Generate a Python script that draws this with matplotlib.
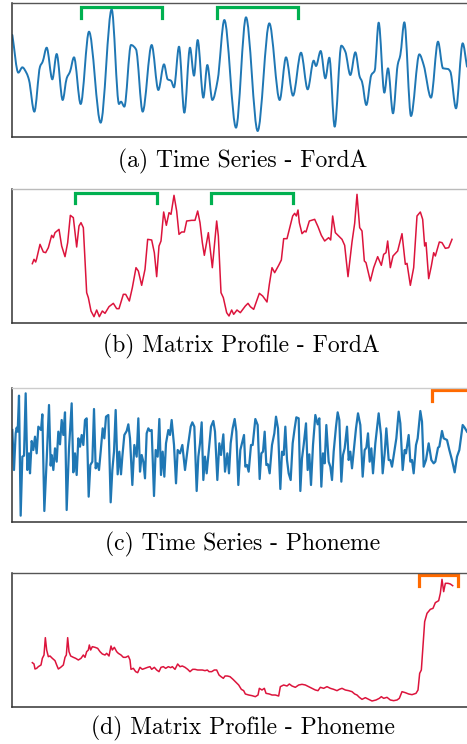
import numpy as np
import matplotlib
matplotlib.use('Agg')
import matplotlib.pyplot as plt
from matplotlib.path import Path
from matplotlib.patches import PathPatch

# readings taken off the figure: time index and level (level grows downwards)

# (a) FordA time series
fa_t = [22, 40, 52, 65, 72, 88, 105, 113, 125, 142, 155, 173, 185, 195, 207, 227,
        252, 287, 320, 342, 348, 358, 378, 393, 413, 440, 460, 477, 488, 498, 507,
        522, 538, 555, 567, 578, 595, 607, 622, 638, 658, 693, 723, 758, 793, 824,
        843, 864, 888, 908, 926, 933, 947, 961, 973, 989, 1009, 1021, 1036, 1051,
        1064, 1071, 1084, 1099, 1109, 1121, 1138, 1149, 1164, 1178, 1186, 1198,
        1218, 1243, 1256, 1278, 1299, 1314, 1329, 1336, 1353, 1373, 1386]
fa_y = [105, 218, 202, 220, 240, 335, 200, 185, 143, 238, 162, 300, 235, 215, 172, 312,
        95, 368, 28, 312, 305, 320, 135, 148, 335, 135, 270, 193, 238, 242, 262,
        140, 338, 143, 227, 120, 293, 195, 300, 240, 60, 383, 52, 393, 70, 300,
        172, 287, 158, 268, 182, 198, 153, 235, 173, 380, 137, 155, 225, 157,
        230, 245, 315, 225, 212, 68, 278, 205, 340, 195, 165, 67,
        348, 163, 195, 293, 125, 205, 207, 215, 325, 130, 200]
fa_motifs = [(228, 472), (637, 878)]

# (b) FordA matrix profile
fb_t = [82, 87, 92, 95, 105, 115, 122, 130, 140, 145, 150, 162, 170, 180, 188, 196,
        205, 215, 222, 228, 235, 245, 250, 258, 267, 275, 283, 292, 300, 312, 325,
        335, 342, 355, 362, 373, 382, 393, 400, 410, 420, 428, 440, 448, 455, 462,
        468, 476, 484, 492, 498, 507, 515, 522, 530, 538, 545, 560, 570, 578, 585,
        592, 598, 610, 622, 635, 640, 648, 655, 665, 672, 680, 686, 696, 706, 721,
        729, 736, 746, 763, 773, 786, 793, 801, 809, 821, 829, 836, 846, 856, 863,
        869, 874, 879, 883, 891, 899, 903, 913, 929, 939, 949, 959, 971, 977, 983,
        991, 999, 1011, 1019, 1029, 1041, 1049, 1056, 1064, 1071, 1078, 1083, 1096,
        1106, 1118, 1129, 1136, 1143, 1148, 1156, 1164, 1178, 1191, 1201, 1206,
        1216, 1226, 1236, 1246, 1253, 1259, 1263, 1271, 1279, 1286, 1291, 1303,
        1311, 1321, 1331, 1341]
fb_y = [233, 220, 228, 218, 175, 198, 200, 185, 148, 155, 140, 130, 180, 212, 170, 88,
        95, 183, 120, 110, 125, 320, 335, 375, 392, 372, 392, 375, 382, 362, 352,
        368, 368, 325, 325, 345, 305, 245, 255, 298, 250, 160, 162, 200, 272, 180,
        165, 78, 118, 80, 85, 28, 75, 145, 138, 138, 105, 103, 103, 75, 110,
        170, 208, 140, 245, 105, 150, 320, 335, 380, 390, 372, 385, 372, 380, 360,
        352, 362, 370, 322, 330, 348, 295, 245, 260, 238, 222, 158, 158, 118, 90,
        82, 90, 72, 110, 143, 135, 138, 105, 100, 122, 148, 165, 155, 162, 90,
        140, 148, 160, 178, 272, 168, 112, 25, 125, 135, 225, 230, 285,
        245, 212, 238, 205, 200, 165, 245, 210, 195, 143, 235, 232,
        298, 245, 90, 78, 100, 180, 170, 278, 240, 200, 210, 168,
        170, 187, 185, 160]
fb_motifs = [(210, 455), (618, 863)]

# (c) Phoneme time series
pc_t = [22, 27, 32, 35, 38, 42, 47, 52, 57, 62, 67, 72, 75, 80, 85, 90, 95, 100, 108,
        112, 118, 125, 132, 137, 140, 145, 150, 155, 160, 165, 170, 175, 180, 185,
        192, 200, 205, 210, 215, 220, 225, 230, 235, 240, 245, 251, 256, 262, 267,
        272, 277, 282, 287, 293, 298, 303, 310, 317, 322, 327, 332, 338, 343, 348,
        352, 358, 365, 370, 375, 382, 388, 395, 400, 405, 410, 415, 420, 425, 430,
        435, 440, 447, 452, 458, 463, 468, 473, 478, 483, 490, 495, 500, 507, 513,
        518, 525, 532, 540, 545, 550, 557, 562, 568, 575, 580, 585, 590, 595, 600,
        605, 612, 618, 625, 630, 637, 643, 648, 655, 660, 667, 672, 677, 683, 689,
        694, 700, 706, 711, 717, 721, 726, 731, 738, 743, 751, 758, 764, 769, 774,
        779, 784, 789, 794, 801, 808, 813, 819, 826, 831, 836, 841, 846, 851, 857,
        863, 869, 874, 881, 886, 891, 896, 903, 908, 913, 918, 924, 931, 938, 943,
        949, 954, 959, 964, 971, 976, 981, 986, 993, 998, 1003, 1009, 1014, 1019,
        1026, 1031, 1036, 1041, 1048, 1053, 1059, 1066, 1073, 1079, 1084, 1089,
        1094, 1099, 1104, 1111, 1121, 1128, 1133, 1139, 1144, 1151, 1156, 1161,
        1168, 1174, 1181, 1186, 1193, 1199, 1203, 1211, 1216, 1221, 1226, 1233,
        1238, 1246, 1251, 1256, 1263, 1271, 1279, 1286, 1291, 1299, 1303, 1311,
        1316, 1326, 1333, 1341, 1349, 1356, 1363, 1373, 1379, 1386]
pc_y = [135, 255, 145, 128, 140, 32, 392, 215, 212, 25, 255, 205, 265, 168, 195, 155,
        205, 125, 135, 88, 378, 225, 60, 242, 210, 255, 190, 230, 140, 178, 105, 150,
        82, 375, 190, 55, 262, 205, 270, 160, 185, 150, 180, 105, 100, 335, 240, 230,
        72, 250, 235, 255, 200, 130, 160, 95, 90, 352, 255, 200, 75, 268, 200, 268,
        215, 150, 138, 118, 160, 300, 180, 215, 100, 260, 210, 230, 280, 145, 130,
        138, 135, 333, 195, 215, 102, 270, 200, 275, 175, 135, 150, 105, 180, 295,
        195, 205, 180, 255, 215, 175, 125, 112, 125, 318, 215, 175, 112, 285, 215,
        265, 190, 125, 108, 140, 285, 175, 210, 148, 260, 205, 265, 175, 130, 102,
        140, 300, 195, 175, 150, 245, 240, 260, 180, 180, 102, 120, 282, 205, 200,
        140, 240, 238, 265, 180, 145, 95, 130, 312, 200, 210, 125, 225, 265, 285,
        175, 130, 97, 100, 318, 220, 180, 115, 255, 208, 300, 180, 90, 118, 100,
        305, 205, 235, 120, 230, 245, 285, 200, 125, 82, 105, 290, 210, 190,
        125, 225, 200, 250, 180, 130, 85, 120, 275, 195, 188, 145,
        230, 190, 265, 175, 85, 150, 265, 205, 130, 225, 225, 245,
        200, 160, 80, 115, 255, 195, 205, 150, 230, 225, 265, 180,
        160, 78, 110, 245, 225, 175, 225, 235, 230, 188, 185, 138,
        160, 165, 195, 225, 262, 215, 195, 120, 128, 140]
pc_motifs = [(1281, 1480)]

# (d) Phoneme matrix profile
pd_t = [82, 87, 90, 95, 100, 108, 112, 117, 121, 125, 130, 135, 142, 150, 155, 160,
        167, 175, 180, 184, 188, 192, 197, 205, 212, 220, 228, 235, 240, 245, 250,
        253, 257, 262, 270, 278, 285, 292, 300, 305, 312, 318, 322, 328, 335, 340,
        348, 355, 362, 370, 375, 378, 385, 392, 398, 405, 412, 420, 428, 435, 440,
        448, 455, 462, 468, 475, 482, 490, 497, 502, 510, 518, 525, 532, 540, 548,
        555, 563, 570, 578, 585, 592, 600, 607, 612, 620, 628, 635, 642, 648, 655,
        660, 667, 675, 684, 691, 701, 709, 716, 721, 731, 741, 751, 759, 763, 771,
        778, 783, 793, 801, 811, 821, 826, 836, 846, 853, 861, 871, 881, 891, 901,
        911, 921, 931, 939, 946, 956, 966, 976, 986, 996, 1003, 1011, 1021, 1031,
        1041, 1049, 1056, 1063, 1071, 1081, 1091, 1101, 1113, 1123, 1129, 1136,
        1146, 1156, 1166, 1176, 1183, 1191, 1201, 1211, 1221, 1233, 1239, 1244,
        1249, 1253, 1259, 1266, 1276, 1284, 1291, 1301, 1306, 1311, 1316, 1321,
        1329, 1336, 1343]
pd_y = [278, 282, 297, 295, 290, 285, 265, 255, 203, 240, 260, 258, 265, 272, 285, 297,
        292, 285, 262, 255, 203, 245, 258, 262, 265, 270, 265, 255, 262, 245, 240,
        225, 240, 230, 232, 235, 245, 252, 255, 250, 258, 228, 240, 232, 245, 250,
        255, 262, 262, 258, 270, 298, 295, 305, 308, 292, 298, 295, 292, 290, 298,
        292, 300, 305, 292, 290, 295, 290, 293, 290, 298, 282, 290, 288, 292, 298,
        305, 298, 298, 300, 300, 300, 302, 300, 305, 305, 300, 300, 315, 320, 325,
        318, 318, 320, 328, 335, 345, 358, 362, 372, 375, 377, 380, 375, 355, 360,
        355, 370, 372, 375, 375, 378, 350, 345, 348, 342, 348, 352, 345, 343, 345,
        350, 355, 360, 362, 352, 355, 350, 355, 358, 362, 358, 355, 360, 362,
        365, 372, 375, 382, 388, 383, 388, 393, 390, 385, 380, 385,
        382, 390, 392, 390, 385, 365, 368, 372, 374, 370, 360, 310,
        300, 240, 155, 130, 118, 115, 98, 92, 70, 28, 65, 40,
        40, 42, 47]
pd_motifs = [(1241, 1359)]

BLUE = '#1f77b4'
RED = '#dc143c'
GREEN = '#00b050'
ORANGE = '#ff6a00'

W, H = 467, 744
fig = plt.figure(figsize=(W / 100, H / 100), dpi=100)


def make_ax(top_px, bot_px, top_read, bot_read, top_col):
    # axes box in pixels: left spine at x=11.7, right edge runs past the figure
    ax = fig.add_axes([11.67 / W, 1 - bot_px / H, 470 / W, (bot_px - top_px) / H])
    ax.set_xlim(20, 20 + 470 * 3)
    ax.set_ylim(bot_read, top_read)
    ax.set_xticks([])
    ax.set_yticks([])
    for s in ['left', 'bottom']:
        ax.spines[s].set_color('#333333')
        ax.spines[s].set_linewidth(1.1)
    ax.spines['top'].set_color(top_col)
    ax.spines['top'].set_linewidth(1.0)
    ax.spines['right'].set_visible(False)
    return ax


def smooth_line(ax, t, y, **kw):
    # draw the read points joined by a monotone cubic (bezier) path
    t = np.asarray(t, float)
    y = np.asarray(y, float)
    d = np.diff(y) / np.diff(t)
    m = np.zeros_like(y)
    m[0], m[-1] = d[0], d[-1]
    for i in range(1, len(y) - 1):
        if d[i - 1] * d[i] > 0:
            m[i] = 2.0 / (1.0 / d[i - 1] + 1.0 / d[i])
    verts = [(t[0], y[0])]
    codes = [Path.MOVETO]
    for i in range(len(t) - 1):
        h = t[i + 1] - t[i]
        verts += [(t[i] + h / 3, y[i] + m[i] * h / 3),
                  (t[i + 1] - h / 3, y[i + 1] - m[i + 1] * h / 3),
                  (t[i + 1], y[i + 1])]
        codes += [Path.CURVE4] * 3
    ax.add_patch(PathPatch(Path(verts, codes), fill=False, capstyle='round',
                           joinstyle='round', **kw))


def brackets(ax, spans, y_top, y_leg, col):
    for a, b in spans:
        ax.plot([a, a, b, b], [y_leg, y_top, y_top, y_leg], color=col, lw=2.3,
                solid_joinstyle='miter', clip_on=False)


cap = dict(ha='center', va='center', fontsize=17, family='cmr10')

ax = make_ax(3.0, 137.33, 9, 412, '#555555')
smooth_line(ax, fa_t, fa_y, edgecolor=BLUE, lw=1.4)
brackets(ax, fa_motifs, 22, 55, GREEN)
fig.text(242.5 / W, 1 - 161 / H, '(a) Time Series - FordA', **cap)

ax = make_ax(189.33, 322.67, 10, 410, '#bbbbbb')
ax.plot(fb_t, fb_y, color=RED, lw=1.1)
brackets(ax, fb_motifs, 20, 52, GREEN)
fig.text(241.7 / W, 1 - 346 / H, '(b) Matrix Profile - FordA', **cap)

ax = make_ax(388.33, 521.67, 10, 410, '#cccccc')
ax.plot(pc_t, pc_y, color=BLUE, lw=1.6)
brackets(ax, pc_motifs, 15, 48, ORANGE)
fig.text(242.7 / W, 1 - 544 / H, '(c) Time Series - Phoneme', **cap)

ax = make_ax(573.33, 707.33, 10, 412, '#555555')
ax.plot(pd_t, pd_y, color=RED, lw=1.1)
brackets(ax, pd_motifs, 15, 48, ORANGE)
fig.text(242.5 / W, 1 - 728 / H, '(d) Matrix Profile - Phoneme', **cap)

fig.savefig('out.png', dpi=100)
